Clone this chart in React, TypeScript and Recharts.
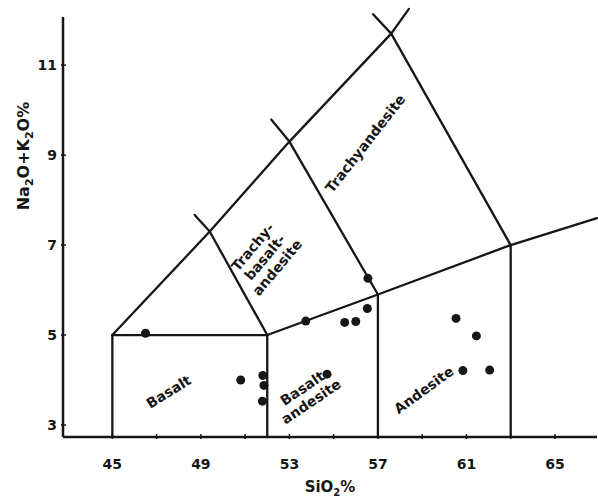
import React from 'react';
import { ScatterChart, Scatter, XAxis, YAxis, ReferenceLine } from 'recharts';

// SiO2 % (x) against Na2O + K2O % (y)
const xTicks = [45, 47, 49, 51, 53, 55, 57, 59, 61, 63, 65];
const xTickLabels = [45, 49, 53, 57, 61, 65];
const yTicks = [3, 5, 7, 9, 11];

// field boundaries (polylines in data units)
const outerBoundary = [
    { x: 45, y: 2.733 },
    { x: 45, y: 5 },
    { x: 49.4, y: 7.3 },
    { x: 53, y: 9.3 },
    { x: 57.6, y: 11.7 },
    { x: 58.4, y: 12.25 },
];
const basaltTop = [
    { x: 45, y: 5 },
    { x: 52, y: 5 },
];
const alkalineLine = [
    { x: 52, y: 5 },
    { x: 57, y: 5.9 },
    { x: 63, y: 7 },
    { x: 66.9, y: 7.6 },
];
const divider1 = [
    { x: 52, y: 2.733 },
    { x: 52, y: 5 },
    { x: 49.4, y: 7.3 },
    { x: 48.72, y: 7.67 },
];
const divider2 = [
    { x: 57, y: 2.733 },
    { x: 57, y: 5.9 },
    { x: 53, y: 9.3 },
    { x: 52.18, y: 9.79 },
];
const divider3 = [
    { x: 63, y: 2.733 },
    { x: 63, y: 7 },
    { x: 57.6, y: 11.7 },
    { x: 56.78, y: 12.13 },
];
const boundaries = [outerBoundary, basaltTop, alkalineLine, divider1, divider2, divider3];

// samples
const samples = [
    { x: 46.5, y: 5.04 },
    { x: 50.8, y: 4.0 },
    { x: 51.8, y: 4.1 },
    { x: 51.85, y: 3.88 },
    { x: 51.78, y: 3.53 },
    { x: 53.74, y: 5.31 },
    { x: 54.7, y: 4.13 },
    { x: 55.5, y: 5.28 },
    { x: 56.0, y: 5.3 },
    { x: 56.52, y: 5.59 },
    { x: 56.55, y: 6.26 },
    { x: 60.53, y: 5.37 },
    { x: 61.45, y: 4.98 },
    { x: 60.84, y: 4.21 },
    { x: 62.05, y: 4.22 },
];

// rock field names
const fieldNames = [
    { x: 47.54, y: 3.74, lines: ['Basalt'], angle: -32 },
    { x: 53.78, y: 3.67, lines: ['Basalt', 'andesite'], angle: -34 },
    { x: 59.07, y: 3.78, lines: ['Andesite'], angle: -36 },
    { x: 51.89, y: 6.73, lines: ['Trachy-', 'basalt-', 'andesite'], angle: -50 },
    { x: 56.43, y: 9.26, lines: ['Trachyandesite'], angle: -52 },
];

const INK = '#161616';
const FONT = '"DejaVu Sans", sans-serif';

const segments = boundaries.flatMap((line) =>
    line.slice(1).map((p, i) => [line[i], p])
);

const XTick = (props: any) => {
    const { x, y, payload } = props;
    const v = payload.value;
    return (
        <g>
            <line x1={x} y1={y} x2={x} y2={y - 5} stroke={INK} strokeWidth={1.5} />
            {xTickLabels.includes(v) && (
                <text x={x} y={y + 30} textAnchor="middle" fontFamily={FONT} fontWeight="bold" fontSize={14} fill={INK}>
                    {v}
                </text>
            )}
        </g>
    );
};

const YTick = (props: any) => {
    const { x, y, payload } = props;
    return (
        <g>
            <line x1={x} y1={y} x2={x + 5} y2={y} stroke={INK} strokeWidth={1.5} />
            <text x={x - 4} y={y + 5} textAnchor="end" fontFamily={FONT} fontWeight="bold" fontSize={14} fill={INK}>
                {payload.value}
            </text>
        </g>
    );
};

const FieldName = (props: any) => {
    const { cx, cy, payload } = props;
    const n = payload.lines.length;
    const lh = 16;
    return (
        <text
            transform={`rotate(${payload.angle}, ${cx}, ${cy})`}
            textAnchor="middle"
            fontFamily={FONT}
            fontWeight="bold"
            fontSize={14}
            fill={INK}
        >
            {payload.lines.map((s: string, i: number) => (
                <tspan key={i} x={cx} y={cy + 5 + (i - (n - 1) / 2) * lh}>
                    {s}
                </tspan>
            ))}
        </text>
    );
};

const Dot = (props: any) => <circle cx={props.cx} cy={props.cy} r={4.5} fill={INK} />;

const YLabel = () => {
    const x = 29;
    const y = 156;
    return (
        <text transform={`rotate(-90, ${x}, ${y})`} x={x} y={y} textAnchor="middle" fontFamily={FONT} fontWeight="bold" fontSize={16} fill={INK}>
            Na<tspan dy={4} fontSize={11}>2</tspan>
            <tspan dy={-4}>O+K</tspan>
            <tspan dy={4} fontSize={11}>2</tspan>
            <tspan dy={-4}>O%</tspan>
        </text>
    );
};

const XLabel = () => (
    <text x={330} y={492} textAnchor="middle" fontFamily={FONT} fontWeight="bold" fontSize={15} fill={INK}>
        SiO<tspan dy={4} fontSize={10}>2</tspan>
        <tspan dy={-4}>%</tspan>
    </text>
);

export default function App() {
    return (
        <div style={{ position: 'fixed', left: 0, top: 0, background: '#fff' }}>
            <ScatterChart width={598} height={499} margin={{ top: 17, right: 1, left: 13, bottom: 17 }}>
                <XAxis
                    type="number"
                    dataKey="x"
                    domain={[42.77, 66.9]}
                    allowDataOverflow
                    ticks={xTicks}
                    interval={0}
                    tickSize={0}
                    tick={<XTick />}
                    height={45}
                    axisLine={{ stroke: INK, strokeWidth: 2.5 }}
                    label={<XLabel />}
                />
                <YAxis
                    type="number"
                    dataKey="y"
                    domain={[2.733, 12.07]}
                    allowDataOverflow
                    ticks={yTicks}
                    interval={0}
                    tickSize={0}
                    tick={<YTick />}
                    width={50}
                    axisLine={{ stroke: INK, strokeWidth: 2.5 }}
                    label={<YLabel />}
                />
                {segments.map(([a, b], i) => (
                    <ReferenceLine
                        key={i}
                        segment={[a, b]}
                        stroke={INK}
                        strokeWidth={2.3}
                        strokeLinecap="round"
                        ifOverflow="visible"
                    />
                ))}
                <Scatter data={samples} shape={<Dot />} isAnimationActive={false} />
                <Scatter data={fieldNames} shape={<FieldName />} isAnimationActive={false} />
            </ScatterChart>
        </div>
    );
}
